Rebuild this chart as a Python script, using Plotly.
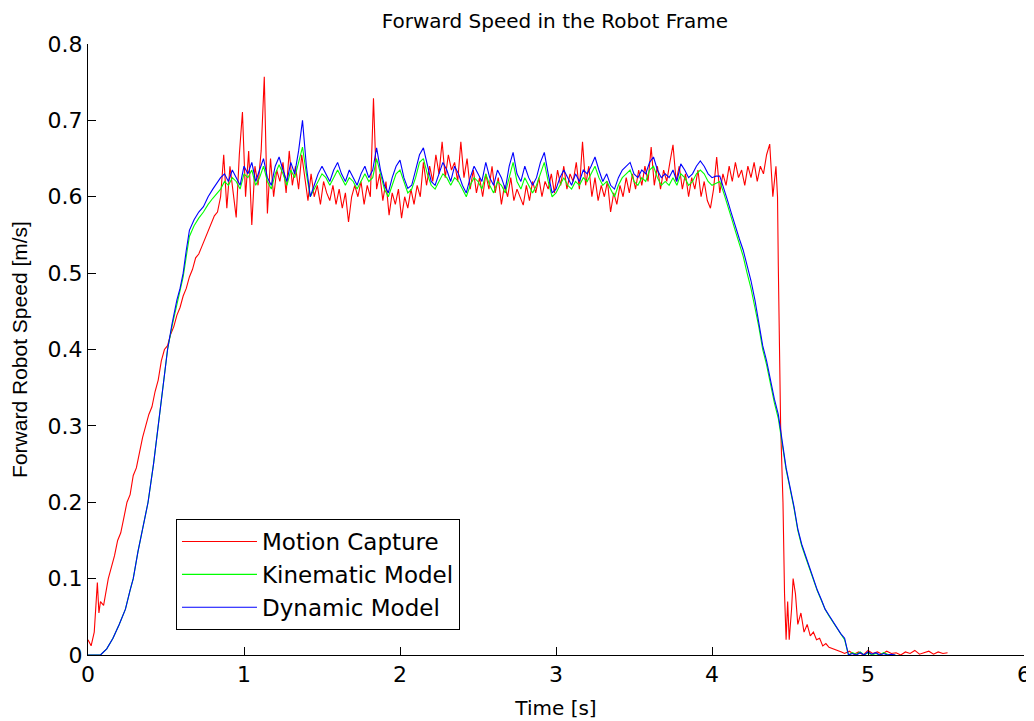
import numpy as np
import plotly.graph_objects as go

# ---------------- data ----------------
# Motion capture: ramp (explicit times), plateau (sampled every 0.02 s from 0.85 s),
# stop (explicit times), tail (sampled every 0.03 s from 4.85 s)
mocap_t_ramp = [0.00, 0.02, 0.04, 0.06, 0.07, 0.08, 0.10, 0.12, 0.13, 0.15, 0.17, 0.19, 0.21, 0.23,
                0.25, 0.27, 0.29, 0.31, 0.33, 0.35, 0.37, 0.39, 0.41, 0.43, 0.45, 0.47, 0.49, 0.51,
                0.53, 0.55, 0.57, 0.59, 0.61, 0.63, 0.65, 0.67, 0.69, 0.71, 0.73, 0.75, 0.77, 0.79,
                0.81, 0.83]
mocap_v_ramp = [0.020, 0.012, 0.030, 0.095, 0.055, 0.070, 0.065, 0.090, 0.100, 0.115, 0.130, 0.150,
                0.160, 0.180, 0.200, 0.210, 0.235, 0.245, 0.265, 0.285, 0.300, 0.315, 0.325, 0.345,
                0.360, 0.385, 0.400, 0.405, 0.420, 0.430, 0.445, 0.455, 0.470, 0.480, 0.495, 0.505,
                0.520, 0.525, 0.535, 0.545, 0.555, 0.565, 0.575, 0.580]
mocap_v_plateau = [
    0.600, 0.655, 0.585, 0.640, 0.610, 0.573, 0.655, 0.711, 0.600, 0.660,
    0.563, 0.640, 0.615, 0.660, 0.757, 0.578, 0.650, 0.600, 0.635, 0.620,
    0.645, 0.605, 0.660, 0.615, 0.640, 0.610, 0.655, 0.625, 0.595, 0.630,
    0.600, 0.615, 0.590, 0.620, 0.605, 0.595, 0.615, 0.590, 0.610, 0.585,
    0.605, 0.567, 0.600, 0.615, 0.600, 0.620, 0.590, 0.615, 0.600, 0.729,
    0.610, 0.630, 0.595, 0.620, 0.576, 0.605, 0.590, 0.610, 0.572, 0.600,
    0.585, 0.610, 0.590, 0.615, 0.600, 0.645, 0.615, 0.640, 0.620, 0.655,
    0.630, 0.672, 0.625, 0.655, 0.635, 0.645, 0.620, 0.672, 0.625, 0.650,
    0.610, 0.635, 0.605, 0.625, 0.600, 0.630, 0.610, 0.640, 0.605, 0.625,
    0.590, 0.615, 0.600, 0.625, 0.595, 0.610, 0.600, 0.589, 0.615, 0.595,
    0.620, 0.605, 0.625, 0.600, 0.620, 0.610, 0.630, 0.605, 0.635, 0.615,
    0.640, 0.610, 0.630, 0.620, 0.645, 0.610, 0.672, 0.615, 0.640, 0.600,
    0.625, 0.595, 0.615, 0.600, 0.620, 0.580, 0.605, 0.590, 0.615, 0.600,
    0.625, 0.605, 0.630, 0.610, 0.635, 0.615, 0.640, 0.620, 0.665, 0.615,
    0.640, 0.610, 0.635, 0.620, 0.645, 0.668, 0.620, 0.640, 0.610, 0.630,
    0.600, 0.625, 0.610, 0.635, 0.600, 0.620, 0.595, 0.585, 0.610, 0.652,
    0.605, 0.630, 0.615, 0.640, 0.620, 0.645, 0.625, 0.635, 0.615, 0.640,
    0.625, 0.645, 0.620, 0.640, 0.630, 0.655, 0.669, 0.600]
mocap_t_stop = [4.41, 4.42, 4.425, 4.44, 4.455, 4.465, 4.475, 4.485, 4.495, 4.51, 4.52, 4.535,
                4.55, 4.57, 4.59, 4.61, 4.63, 4.65, 4.67, 4.69, 4.71, 4.73, 4.75, 4.78, 4.80, 4.83]
mocap_v_stop = [0.640, 0.600, 0.510, 0.300, 0.200, 0.080, 0.020, 0.070, 0.020, 0.060, 0.100, 0.080,
                0.040, 0.055, 0.030, 0.040, 0.025, 0.030, 0.020, 0.022, 0.012, 0.015, 0.010, 0.008,
                0.006, 0.004]
mocap_v_tail = [0.002, 0.005, 0.001, 0.004, 0.000, 0.006, 0.002, 0.004, 0.001, 0.005, 0.002, 0.003,
                0.000, 0.004, 0.002, 0.006, 0.001, 0.003, 0.005, 0.001, 0.004, 0.002, 0.003]

# Models: ramp (explicit times), plateau+stop (sampled every 0.025 s from 0.85 s)
model_t_ramp = [0.00, 0.08, 0.12, 0.16, 0.20, 0.24, 0.27, 0.29, 0.32, 0.35, 0.385, 0.42, 0.45, 0.48,
                0.51, 0.54, 0.57, 0.59, 0.61, 0.63, 0.65, 0.68, 0.71, 0.74, 0.77, 0.80, 0.83]
dynamic_v_ramp = [0.000, 0.000, 0.008, 0.022, 0.040, 0.060, 0.085, 0.100, 0.135, 0.165, 0.200, 0.250,
                  0.300, 0.350, 0.400, 0.435, 0.465, 0.480, 0.500, 0.530, 0.556, 0.570, 0.580, 0.587,
                  0.600, 0.610, 0.620]
kinematic_v_ramp = [0.000, 0.000, 0.008, 0.022, 0.040, 0.060, 0.085, 0.100, 0.135, 0.165, 0.200, 0.250,
                    0.300, 0.350, 0.400, 0.432, 0.460, 0.475, 0.495, 0.522, 0.548, 0.562, 0.572, 0.580,
                    0.590, 0.598, 0.605]
dynamic_v_run = [
    0.625, 0.630, 0.620, 0.635, 0.625, 0.615, 0.640, 0.630, 0.645, 0.620,
    0.635, 0.650, 0.625, 0.615, 0.640, 0.652, 0.635, 0.620, 0.645, 0.630,
    0.660, 0.700, 0.640, 0.600, 0.615, 0.630, 0.640, 0.630, 0.620, 0.635,
    0.645, 0.630, 0.620, 0.635, 0.625, 0.615, 0.630, 0.640, 0.625, 0.635,
    0.664, 0.635, 0.615, 0.605, 0.625, 0.640, 0.648, 0.625, 0.611, 0.615,
    0.635, 0.655, 0.664, 0.640, 0.620, 0.615, 0.630, 0.645, 0.635, 0.620,
    0.640, 0.630, 0.615, 0.605, 0.625, 0.640, 0.630, 0.620, 0.645, 0.625,
    0.615, 0.635, 0.625, 0.610, 0.640, 0.658, 0.630, 0.620, 0.640, 0.625,
    0.615, 0.625, 0.645, 0.658, 0.630, 0.605, 0.610, 0.625, 0.635, 0.625,
    0.615, 0.630, 0.620, 0.635, 0.630, 0.640, 0.652, 0.635, 0.620, 0.630,
    0.615, 0.610, 0.625, 0.635, 0.640, 0.645, 0.630, 0.625, 0.635, 0.630,
    0.645, 0.652, 0.635, 0.625, 0.630, 0.625, 0.635, 0.620, 0.643, 0.635,
    0.625, 0.630, 0.640, 0.647, 0.640, 0.630, 0.625, 0.627, 0.627,
    0.612, 0.595, 0.578, 0.560, 0.545, 0.530, 0.510, 0.490, 0.465, 0.435,
    0.405, 0.385, 0.360, 0.335, 0.315, 0.280, 0.245, 0.220, 0.195, 0.165,
    0.145, 0.130, 0.115, 0.098, 0.085, 0.073, 0.060, 0.052, 0.044, 0.037,
    0.028, 0.022, 0.000, 0.002, 0.000, 0.003, 0.000, 0.004, 0.001, 0.003,
    0.000, 0.002, 0.000, 0.001, 0.000]
kinematic_v_run = [
    0.610, 0.620, 0.615, 0.625, 0.620, 0.610, 0.630, 0.625, 0.635, 0.615,
    0.625, 0.640, 0.620, 0.610, 0.630, 0.642, 0.630, 0.615, 0.635, 0.625,
    0.645, 0.665, 0.630, 0.600, 0.610, 0.620, 0.630, 0.625, 0.615, 0.625,
    0.635, 0.625, 0.615, 0.625, 0.620, 0.610, 0.620, 0.630, 0.620, 0.625,
    0.650, 0.630, 0.610, 0.600, 0.615, 0.630, 0.635, 0.620, 0.605, 0.610,
    0.625, 0.645, 0.650, 0.630, 0.615, 0.610, 0.620, 0.630, 0.625, 0.615,
    0.625, 0.620, 0.610, 0.600, 0.615, 0.625, 0.620, 0.610, 0.630, 0.615,
    0.605, 0.620, 0.615, 0.605, 0.625, 0.645, 0.620, 0.610, 0.625, 0.615,
    0.605, 0.615, 0.630, 0.645, 0.620, 0.600, 0.605, 0.615, 0.625, 0.615,
    0.610, 0.620, 0.615, 0.625, 0.620, 0.630, 0.640, 0.625, 0.615, 0.620,
    0.610, 0.600, 0.615, 0.625, 0.630, 0.635, 0.620, 0.615, 0.625, 0.620,
    0.635, 0.640, 0.625, 0.615, 0.620, 0.615, 0.625, 0.615, 0.630, 0.625,
    0.615, 0.620, 0.630, 0.635, 0.630, 0.620, 0.615, 0.618, 0.620,
    0.605, 0.590, 0.572, 0.555, 0.540, 0.522, 0.500, 0.480, 0.455, 0.430,
    0.400, 0.380, 0.355, 0.330, 0.310, 0.277, 0.243, 0.218, 0.193, 0.163,
    0.143, 0.128, 0.113, 0.097, 0.084, 0.072, 0.060, 0.051, 0.043, 0.036,
    0.027, 0.020, 0.000, 0.003, 0.001, 0.004, 0.000, 0.003, 0.000, 0.002,
    0.000, 0.003, 0.001, 0.000, 0.000]

series_names = ["Motion Capture", "Kinematic Model", "Dynamic Model"]
series_colors = ["#ff0000", "#00ff00", "#0000ff"]

x_ticks = [0, 1, 2, 3, 4, 5, 6]
y_ticks = [0, 0.1, 0.2, 0.3, 0.4, 0.5, 0.6, 0.7, 0.8]


def grid(start, step, n):
    return [round(start + i * step, 4) for i in range(n)]


mocap_t = (mocap_t_ramp + grid(0.85, 0.02, len(mocap_v_plateau)) + mocap_t_stop
           + grid(4.85, 0.03, len(mocap_v_tail)))
mocap_v = mocap_v_ramp + mocap_v_plateau + mocap_v_stop + mocap_v_tail

model_t = model_t_ramp + grid(0.85, 0.025, len(dynamic_v_run))
dynamic_v = dynamic_v_ramp + dynamic_v_run
kinematic_v = kinematic_v_ramp + kinematic_v_run

FONT = "DejaVu Sans"

fig = go.Figure()
for name, t, v, c in zip(series_names, [mocap_t, model_t, model_t],
                         [mocap_v, kinematic_v, dynamic_v], series_colors):
    fig.add_trace(go.Scatter(x=t, y=v, mode="lines", name=name,
                             line=dict(color=c, width=1.1)))

axis_common = dict(showline=True, linecolor="black", linewidth=1, ticks="inside",
                   ticklen=8, tickcolor="black", tickwidth=1, showgrid=False,
                   zeroline=False, mirror=False, automargin=False,
                   tickfont=dict(family=FONT, size=22, color="black"))

# the page body adds an 8 px offset, so the figure is laid out 8 px up/left
fig.update_layout(
    width=1026, height=713,
    margin=dict(l=80, r=10, t=36, b=66, autoexpand=False),
    paper_bgcolor="white", plot_bgcolor="white",
    title=dict(text="Forward Speed in the Robot Frame", x=0.533, xanchor="center",
               y=0.9815, yanchor="middle", font=dict(family=FONT, size=20, color="black")),
    xaxis=dict(range=[0, 6], tickvals=x_ticks, ticktext=[str(v) for v in x_ticks],
               title=dict(text="Time [s]", font=dict(family=FONT, size=20, color="black"),
                          standoff=14),
               **axis_common),
    yaxis=dict(range=[0, 0.8], tickvals=y_ticks, ticktext=["0"] + [f"{v:.1f}" for v in y_ticks[1:]],
               title=dict(text="Forward Robot Speed [m/s]",
                          font=dict(family="Liberation Sans", size=21, color="black"),
                          standoff=14),
               **axis_common),
    legend=dict(x=0.094, y=0.2226, xanchor="left", yanchor="top",
                bgcolor="white", bordercolor="black", borderwidth=1,
                font=dict(family=FONT, size=23, color="black"),
                itemwidth=75, tracegroupgap=0),
    showlegend=True,
)

fig.write_html("out.html")
